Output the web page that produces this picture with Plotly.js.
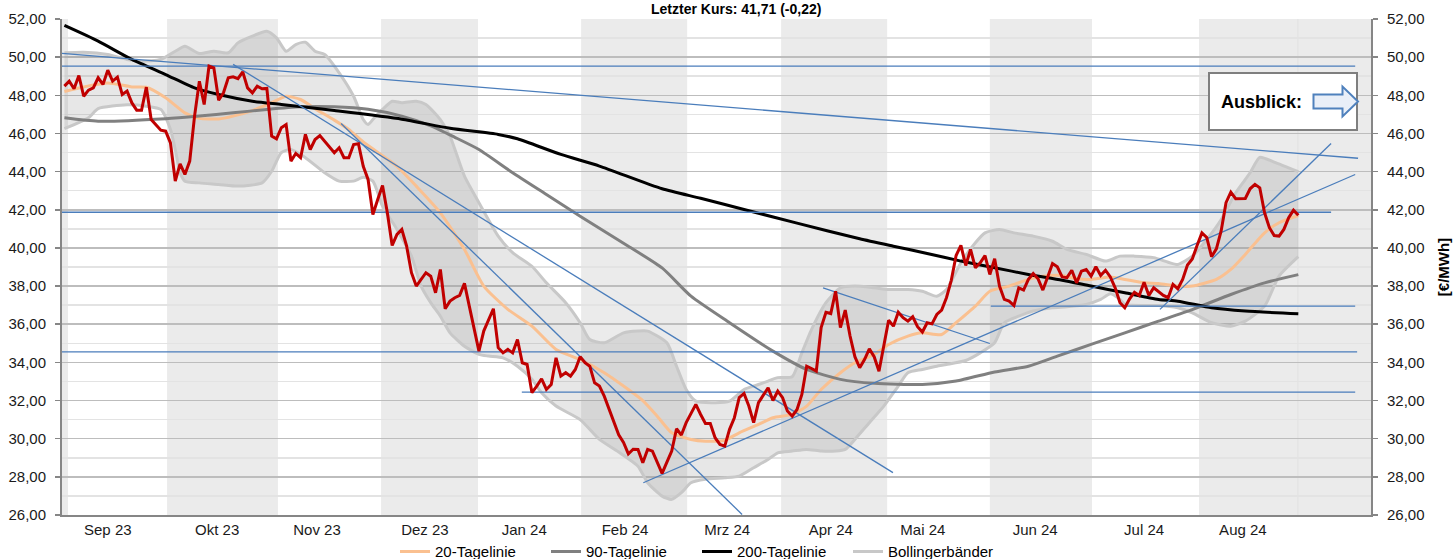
<!DOCTYPE html>
<html><head><meta charset="utf-8">
<script src="https://cdn.plot.ly/plotly-3.0.1.min.js"></script>
<style>html,body{margin:0;padding:0;background:#fff;}#chart{width:1453px;height:559px;}</style>
</head><body><div id="chart"></div>
<script>
// ---- Monate (Handelstag-Index) ----
const monate = ['Sep 23','Okt 23','Nov 23','Dez 23','Jan 24','Feb 24','Mrz 24','Apr 24','Mai 24','Jun 24','Jul 24','Aug 24'];
const monatsLabelTag = [9.0, 31.7, 52.4, 74.8, 95.4, 116.3, 137.5, 159.0, 178.1, 201.4, 224.0, 244.5];
const monatsGrenzen = [-0.5, 0.74, 21.3, 44.3, 65.7, 85.8, 107.2, 129.2, 148.7, 170.7, 192.0, 213.2, 235.4, 255.9, 271.08];
const schattiert = [1,0,1,0,1,0,1,0,1,0,1,0,1,1];

// ---- Kurs (Schlusskurs) ----
const kursTag = [0,1,2,3,4,5,6,7,8,9,10,11,12,13,14,15,16,17,18,19,20,21,22,23,24,25,26,27,28,29,30,31,32,33,34,35,36,37,38,39,40,41,42,43,44,45,46,47,48,49,50,51,52,53,54,55,56,57,58,59,60,61,62,63,64,65,66,67,68,69,70,71,72,73,75,76,77,78,79,80,81,82,83,84,85,86,87,88,89,90,91,92,93,94,95,96,97,98,99,100,101,102,103,104,105,106,107,108,109,110,111,112,113,114,115,116,117,118,119,120,121,122,123,124,125,126,127,128,129,130,131,132,133,134,135,136,137,138,139,140,141,142,143,144,146,147,148,149,150,151,152,153,154,155,156,157,158,159,160,161,162,163,164,165,166,167,168,169,170,171,172,173,174,175,176,177,178,179,180,181,182,183,184,185,186,187,188,189,190,191,192,193,194,195,196,197,198,199,200,201,202,203,204,205,206,207,208,209,210,211,212,213,214,215,216,217,218,219,220,221,222,223,224,225,226,227,228,229,230,231,232,233,234,235,236,237,238,239,240,241,242,243,244,245,246,247,248,249,250,251,252,253,254,255,256];
const kurs = [48.48,48.74,48.34,49.04,47.95,48.27,48.39,48.92,48.57,49.32,48.74,48.95,48.04,48.22,47.60,47.22,47.22,48.43,46.73,46.47,46.17,46.12,45.51,43.50,44.41,43.85,44.55,46.91,48.74,47.52,49.53,49.44,47.74,48.13,48.92,48.97,48.87,49.23,48.39,48.13,48.48,48.34,48.36,45.86,45.72,46.30,46.47,44.55,44.95,44.73,45.95,45.16,45.68,45.89,45.60,45.30,44.99,45.25,44.73,44.73,45.42,45.46,44.28,43.59,41.75,42.54,43.27,41.84,40.13,40.71,40.97,40.09,38.70,38.00,38.70,38.52,37.65,38.87,36.81,37.21,37.39,37.51,38.14,36.95,35.82,34.59,35.64,36.25,36.81,34.77,34.50,34.68,34.50,35.20,33.98,33.89,32.41,32.76,33.14,32.58,32.84,34.24,33.28,33.46,33.28,33.63,34.30,33.98,33.80,32.93,32.76,32.23,31.53,30.80,30.20,29.80,29.20,29.45,29.44,28.74,29.44,29.35,28.74,28.18,28.77,29.35,30.52,30.19,30.84,31.36,31.80,31.27,30.80,30.80,30.05,29.70,29.61,30.49,31.10,32.15,32.37,31.71,30.84,31.89,32.67,32.00,32.49,32.15,31.45,31.18,31.53,32.32,33.80,33.68,33.54,35.82,36.63,36.56,37.73,35.82,36.74,35.38,34.30,33.72,34.15,34.71,34.30,33.54,34.85,36.21,35.90,36.63,36.34,36.16,36.39,35.87,35.59,36.08,36.02,36.51,36.74,37.39,38.30,39.60,40.13,39.08,39.92,38.96,39.22,39.60,38.61,39.43,38.00,37.30,37.21,36.98,37.91,37.79,38.35,38.66,38.38,37.79,38.48,39.18,39.01,38.48,38.44,38.83,38.17,38.78,38.87,38.52,39.01,38.56,38.83,38.48,37.91,37.13,36.86,37.33,37.68,37.51,38.20,37.51,37.91,37.73,37.51,37.39,38.09,37.86,38.35,39.10,39.42,40.13,40.79,40.55,39.54,39.95,40.90,42.37,42.92,42.58,42.59,42.59,43.10,43.33,43.15,41.84,41.06,40.65,40.62,40.97,41.58,41.98,41.71];

// ---- 20-Tagelinie ----
const ma20Tag = [0,4,9,14,17,21,25,28,32,35,39,43,46,49,52,56,59,62,69,73,78,83,87,92,97,102,107,112,117,120,123,126,130,133,137,140,144,147,151,154,157,161,164,168,171,175,178,182,185,189,192,196,200,203,207,210,213,217,220,224,227,231,234,239,242,245,249,252,256];
const ma20 = [48.20,48.44,48.65,48.44,48.42,47.87,47.08,46.79,46.76,46.91,47.20,47.61,47.95,47.78,47.30,46.70,46.21,45.55,44.28,43.24,41.84,39.92,38.00,36.78,35.90,34.68,34.15,33.46,32.58,32.00,31.18,30.31,29.96,29.87,29.92,30.31,30.75,31.10,31.27,31.71,32.58,33.46,33.98,34.42,34.94,35.38,35.55,35.46,36.08,36.95,37.73,38.00,38.35,38.52,38.56,38.38,38.35,38.48,38.35,38.17,38.14,38.00,38.00,38.35,38.87,39.66,40.79,41.32,41.70];

// ---- 90-Tagelinie ----
const ma90Tag = [0,7,21,28,35,42,49,56,63,70,76,81,86,93,100,107,117,124,130,138,147,154,161,168,178,185,193,200,206,213,220,227,234,242,249,256];
const ma90 = [46.82,46.64,46.77,46.91,47.08,47.26,47.40,47.40,47.27,46.91,46.40,45.80,45.16,43.94,42.80,41.66,40.09,38.95,37.47,36.08,34.59,33.63,33.11,32.90,32.84,33.02,33.50,33.80,34.33,34.94,35.55,36.16,36.77,37.56,38.17,38.60];

// ---- 200-Tagelinie ----
const ma200Tag = [0,7,14,21,27,32,39,45,56,70,80,90,94,103,111,124,132,142,152,165,172,179,186,193,200,207,213,220,227,231,238,245,256];
const ma200 = [51.66,50.84,49.88,49.09,48.39,48.04,47.69,47.52,47.20,46.75,46.27,45.95,45.72,44.90,44.29,43.10,42.60,41.95,41.30,40.48,40.09,39.71,39.31,38.96,38.61,38.31,38.00,37.65,37.30,37.21,36.86,36.69,36.55];

// ---- Bollingerbänder ----
const bandObenTag = [0,4,9,13,16,20,23,25,28,31,34,36,39,42,44,46,48,50,52,54,57,60,62,63,64,66,68,70,73,75,78,80,83,86,90,93,97,100,104,107,109,112,116,119,121,125,127,129,131,135,138,141,144,146,148,151,153,155,158,161,164,168,171,175,178,181,183,186,189,191,194,197,201,205,208,212,216,219,222,226,229,231,234,237,240,243,246,248,251,256];
const bandOben = [50.23,50.26,50.14,49.88,49.79,49.88,50.31,50.57,50.19,50.31,50.23,50.75,51.10,51.36,51.01,50.31,50.66,50.78,50.31,50.14,49.18,47.95,46.73,46.47,46.73,47.26,47.69,47.61,47.69,47.52,46.73,45.86,43.76,42.37,40.62,39.75,39.04,38.17,37.13,36.08,35.20,35.03,35.55,35.64,35.64,35.03,33.80,32.58,31.97,31.89,31.97,32.58,32.84,33.02,33.20,33.25,34.50,35.72,37.13,37.91,38.00,37.91,37.82,37.82,37.73,37.47,37.82,39.22,40.27,40.79,40.97,40.79,40.62,40.35,39.92,39.66,39.31,39.57,39.57,39.49,39.25,39.13,39.57,40.44,41.49,42.89,43.94,44.75,44.50,44.00];
const bandUntenTag = [0,5,7,13,17,20,22,23,24,25,28,32,36,41,43,45,47,50,54,57,60,62,64,66,69,72,74,76,78,80,83,86,88,91,94,97,99,102,107,111,115,119,121,124,126,128,130,133,137,140,143,146,148,151,154,157,160,162,164,167,170,173,175,178,181,183,187,190,193,195,198,201,205,208,212,215,217,219,220,224,227,231,234,238,242,245,249,252,256];
const bandUnten = [46.25,46.82,47.30,47.50,47.43,47.26,46.21,45.16,43.94,43.50,43.41,43.33,43.24,43.41,44.02,45.00,45.16,44.73,43.94,43.50,43.50,43.70,43.50,42.19,40.97,39.57,38.00,37.13,36.42,35.55,34.85,34.42,34.33,34.24,33.80,33.11,32.41,31.71,31.00,29.96,29.30,28.56,27.69,26.99,26.82,27.17,27.69,27.87,27.95,28.04,28.48,28.91,29.26,29.35,29.44,29.35,29.35,29.44,29.96,30.84,31.71,32.76,33.46,33.63,33.80,33.89,34.10,34.50,35.03,36.08,36.42,36.69,36.86,36.91,37.04,37.30,37.60,37.30,37.04,36.98,36.98,36.86,36.60,36.08,35.90,36.16,36.95,38.52,39.54];

// ---- Trendlinien (Start-/Endpunkte) ----
const trendX0 = [-0.5, -0.5, 192.2, -0.5, 94.9, -0.5, 35.0, 57.4, 120.1, 227.3, 157.4];
const trendY0 = [49.53, 41.87, 36.95, 34.55, 32.44, 50.20, 49.62, 46.52, 27.69, 36.78, 37.91];
const trendX1 = [267.8, 262.8, 267.8, 268.2, 267.8, 268.4, 171.9, 140.6, 267.8, 262.8, 192.0];
const trendY1 = [49.53, 41.87, 36.95, 34.55, 32.44, 44.70, 28.22, 26.03, 43.85, 45.47, 34.99];

const yTicks = [26,28,30,32,34,36,38,40,42,44,46,48,50,52];

// ---- Layout helpers ----
const FONT = 'Liberation Sans, Arial, sans-serif';
const M = {l:62, r:82, t:19, b:44};
const W = 1453 - M.l - M.r, H = 559 - M.t - M.b;
const px = p => (p - M.l) / W;
const py = p => (M.t + H - p) / H;

const traces = [];
traces.push({x: bandUntenTag, y: bandUnten, mode:'lines', name:'Bollingerbänder', legendrank:4,
  line:{color:'#c8c8c8', width:3, shape:'spline', smoothing:0.6}, hoverinfo:'skip'});
traces.push({x: bandObenTag, y: bandOben, mode:'lines', showlegend:false, fill:'tonexty',
  fillcolor:'rgba(120,120,120,0.18)', line:{color:'#c8c8c8', width:3, shape:'spline', smoothing:0.6}, hoverinfo:'skip'});
traces.push({x: ma20Tag, y: ma20, mode:'lines', name:'20-Tagelinie', legendrank:1,
  line:{color:'#fac090', width:3, shape:'spline', smoothing:0.6}});
traces.push({x: ma90Tag, y: ma90, mode:'lines', name:'90-Tagelinie', legendrank:2,
  line:{color:'#808080', width:3, shape:'spline', smoothing:0.6}});
traces.push({x: ma200Tag, y: ma200, mode:'lines', name:'200-Tagelinie', legendrank:3,
  line:{color:'#000000', width:3, shape:'spline', smoothing:0.6}});
for (let k = 0; k < trendX0.length; k++) {
  traces.push({x:[trendX0[k], trendX1[k]], y:[trendY0[k], trendY1[k]], mode:'lines', showlegend:false,
    line:{color:'#4a7dbb', width:1.3}, hoverinfo:'skip'});
}
traces.push({x: kursTag, y: kurs, mode:'lines', name:'Kurs', showlegend:false,
  line:{color:'#c00000', width:3}});
traces.push({x:[null], y:[null], yaxis:'y2', mode:'lines', showlegend:false, hoverinfo:'skip'});

const shapes = [];
for (let k = 0; k < monatsGrenzen.length - 1; k++) {
  if (schattiert[k]) shapes.push({type:'rect', xref:'x', yref:'paper', x0:monatsGrenzen[k], x1:monatsGrenzen[k+1],
    y0:0, y1:1, fillcolor:'#ebebeb', line:{width:0}, layer:'below'});
}
shapes.push({type:'line', xref:'x', yref:'paper', x0:monatsGrenzen[13], x1:monatsGrenzen[13], y0:0, y1:1,
  line:{color:'#e0e0e0', width:1}, layer:'below'});
// Ausblick box
shapes.push({type:'rect', xref:'paper', yref:'paper', x0:px(1209), x1:px(1357), y0:py(130), y1:py(73),
  fillcolor:'#ffffff', line:{color:'#7f7f7f', width:2}, layer:'above'});
// arrow
const ay = 101.5;
const arrowPts = [[1313.5, ay-7],[1342.5, ay-7],[1342.5, ay-15],[1358, ay],[1342.5, ay+15],[1342.5, ay+7],[1313.5, ay+7]];
shapes.push({type:'path', xref:'paper', yref:'paper',
  path: 'M' + arrowPts.map(p => px(p[0]).toFixed(5) + ',' + py(p[1]).toFixed(5)).join(' L') + ' Z',
  fillcolor:'#e9eff8', line:{color:'#4f81bd', width:2}, layer:'above'});

const annotations = [
  {xref:'paper', yref:'paper', x:px(735.5), y:py(19), xanchor:'center', yanchor:'bottom', showarrow:false,
   text:'<b>Letzter Kurs: 41,71 (-0,22)</b>', font:{family:FONT, size:14, color:'#000'}},
  {xref:'paper', yref:'paper', x:px(1219), y:py(102.3), xanchor:'left', yanchor:'middle', showarrow:false,
   text:'<b>Ausblick:</b>', font:{family:FONT, size:18, color:'#000'}},
  {xref:'paper', yref:'paper', x:px(1443.5), y:py(266.7), xanchor:'center', yanchor:'middle', showarrow:false,
   textangle:-90, text:'<b>[€/MWh]</b>', font:{family:FONT, size:15, color:'#000'}}
];

const yCommon = {range:[26,52], tickvals:yTicks, tickformat:'.2f', showline:true, linecolor:'#868686', linewidth:2,
  ticks:'outside', ticklen:5, tickwidth:1.5, tickcolor:'#868686', zeroline:false,
  tickfont:{family:FONT, size:15, color:'#1a1a1a'}, fixedrange:true};

const layout = {
  width:1453, height:559, margin:M, paper_bgcolor:'#fff', plot_bgcolor:'#fff',
  separators:',.', showlegend:true, hovermode:false,
  font:{family:FONT, size:15, color:'#000'},
  xaxis:{range:[-0.5, 271.08], tickvals:monatsLabelTag, ticktext:monate, showgrid:false, zeroline:false,
    showline:true, linecolor:'#868686', linewidth:2, ticks:'', tickfont:{family:FONT, size:15, color:'#1a1a1a'}, fixedrange:true},
  yaxis:Object.assign({}, yCommon, {showgrid:true, gridcolor:'#bdbdbd', gridwidth:1.5, ticklabelstandoff:6,
    minor:{dtick:1, tick0:26, showgrid:true, gridcolor:'#e3e3e3', gridwidth:1.5, ticks:''}}),
  yaxis2:Object.assign({}, yCommon, {overlaying:'y', side:'right', showgrid:false, ticklabelstandoff:6}),
  legend:{orientation:'h', xref:'container', yref:'container', x:395/1453, y:1 - 551.7/559,
    xanchor:'left', yanchor:'middle', font:{family:FONT, size:15, color:'#000'}, bgcolor:'rgba(0,0,0,0)',
    entrywidth:106, entrywidthmode:'pixels', traceorder:'normal'},
  shapes:shapes, annotations:annotations
};

Plotly.newPlot('chart', traces, layout, {displayModeBar:false, staticPlot:true});
</script></body></html>
